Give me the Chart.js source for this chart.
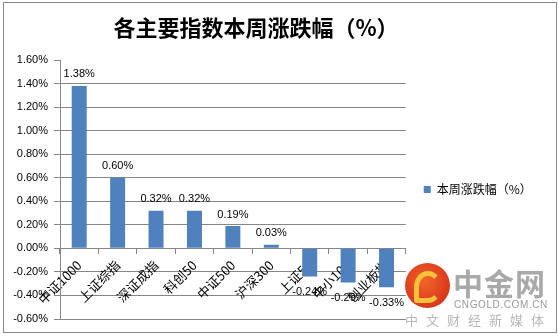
<!DOCTYPE html>
<html lang="zh-CN">
<head>
<meta charset="UTF-8">
<title>各主要指数本周涨跌幅（%）</title>
<script src="https://cdn.jsdelivr.net/npm/chart.js"></script>
<style>
  body { margin: 0; background: #fff; }
  .wrap { position: relative; width: 559px; height: 336px; overflow: hidden; }
  canvas { position: absolute; left: 0; top: 0; }
  .frame { position: absolute; left: 3px; top: 2px; width: 552px; height: 329px; border: 1px solid #888; pointer-events: none; }
  .title { position: absolute; left: 56px; width: 400px; top: 12px; text-align: center;
           font: bold 22px/28px "Noto Sans CJK SC", sans-serif; color: #000; }
  .logo { position: absolute; left: 405px; top: 263px; width: 45px; height: 45px; border-radius: 50%;
          background: radial-gradient(circle at 45% 40%, #f0662a 0%, #e0401f 55%, #c82a1a 100%); }
  .logo::after { content: ""; position: absolute; left: 9px; top: 8px; width: 18px; height: 22px;
          border: 5px solid #f7c23a; border-radius: 50% 50% 50% 10%; border-right-color: transparent; }
  .brand { position: absolute; left: 453px; top: 260px; font: bold 30px "Noto Sans CJK SC", sans-serif; color: #a9a9a9; letter-spacing: 1px; }
  .domain { position: absolute; left: 454px; top: 299px; font: 10px "Liberation Sans", Arial, sans-serif; color: #999; letter-spacing: 0.6px; }
  .slogan { position: absolute; left: 405px; top: 310px; font: 13px "Noto Sans CJK SC", sans-serif; color: #b8b8b8; letter-spacing: 8px; }
</style>
</head>
<body>
<div class="wrap">
  <canvas id="chart" width="559" height="336"></canvas>
  <div class="title">各主要指数本周涨跌幅（%）</div>
  <div class="frame"></div>
  <div class="logo"></div>
  <div class="brand">中金网</div>
  <div class="domain">CNGOLD.COM.CN</div>
  <div class="slogan">中文财经新媒体</div>
</div>

<script>
  // 指数名称与本周涨跌幅（单位：%）
  const indexNames = ['中证1000', '上证综指', '深证成指', '科创50', '中证500', '沪深300', '上证50', '中小100', '创业板指'];
  const weeklyChange = [1.38, 0.60, 0.32, 0.32, 0.19, 0.03, -0.24, -0.29, -0.33];
  const seriesName = '本周涨跌幅（%）';
  const yMin = -0.6;
  const yMax = 1.6;
  const yStep = 0.2;

  const gridGray = '#868686';
  const barBlue = '#4F81BD';

  // 柱顶/柱底的数值标签
  const valueLabels = {
    id: 'valueLabels',
    afterDatasetsDraw(chart) {
      const ctx = chart.ctx;
      const meta = chart.getDatasetMeta(0);
      ctx.save();
      ctx.font = '11px "Liberation Sans", Arial, sans-serif';
      ctx.fillStyle = '#000';
      ctx.textAlign = 'center';
      meta.data.forEach((bar, i) => {
        const v = weeklyChange[i];
        const text = v.toFixed(2) + '%';
        if (v >= 0) {
          ctx.textBaseline = 'bottom';
          ctx.fillText(text, bar.x, bar.y - 6);
        } else {
          ctx.textBaseline = 'top';
          ctx.fillText(text, bar.x, bar.y + 10);
        }
      });
      ctx.restore();
    }
  };

  const ctx = document.getElementById('chart').getContext('2d');
  new Chart(ctx, {
    type: 'bar',
    data: {
      labels: indexNames,
      datasets: [{
        label: seriesName,
        data: weeklyChange,
        backgroundColor: barBlue,
        borderWidth: 0,
        barPercentage: 0.39,
        categoryPercentage: 1
      }]
    },
    options: {
      responsive: false,
      animation: false,
      layout: { padding: { top: 60, left: 0, right: 18, bottom: 17 } },
      plugins: {
        title: { display: false },
        legend: {
          position: 'right',
          labels: {
            boxWidth: 7,
            boxHeight: 7,
            padding: 18,
            color: '#000',
            font: { family: '"Noto Sans CJK SC", sans-serif', size: 12 }
          }
        },
        tooltip: { enabled: false }
      },
      scales: {
        x: {
          position: { y: 0 },
          z: 1,
          afterFit(scale) { scale.height = 0; },
          grid: { drawOnChartArea: false, offset: true, tickLength: 5, color: gridGray },
          border: { color: gridGray },
          ticks: {
            minRotation: 45,
            maxRotation: 45,
            padding: 4,
            color: '#000',
            font: { family: '"Noto Sans CJK SC", sans-serif', size: 13 }
          }
        },
        y: {
          min: yMin,
          max: yMax,
          afterFit(scale) { scale.width = 60; },
          grid: {
            tickLength: 6,
            tickColor: gridGray,
            color: (c) => Math.abs(c.tick.value - yMax) < 1e-6 ? 'rgba(0,0,0,0)' : gridGray
          },
          border: { color: gridGray },
          ticks: {
            stepSize: yStep,
            padding: 6,
            color: '#000',
            font: { family: '"Liberation Sans", Arial, sans-serif', size: 11 },
            callback: (v) => v.toFixed(2) + '%'
          }
        }
      }
    },
    plugins: [valueLabels]
  });
</script>
</body>
</html>
